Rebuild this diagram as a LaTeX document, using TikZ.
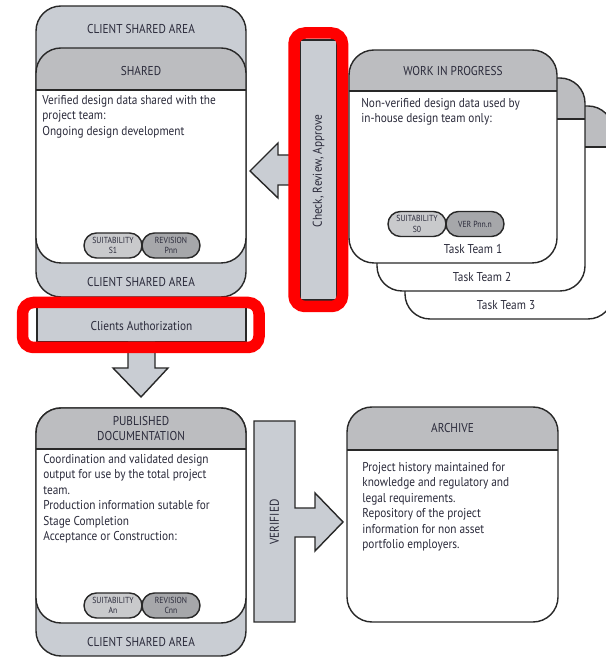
\documentclass[tikz,border=0pt]{standalone}
\usepackage{fontspec}
\setmainfont{PT Sans}[FakeStretch=0.88]
\definecolor{areagrey}{RGB}{201,205,211}
\definecolor{headgrey}{RGB}{188,189,192}
\definecolor{pillgrey}{RGB}{201,202,204}
\definecolor{pilldark}{RGB}{166,167,170}
\definecolor{inkline}{RGB}{40,40,40}
\definecolor{inktext}{RGB}{42,42,58}
\tikzset{
  boxline/.style={draw=inkline, line width=0.8pt},
  area/.style={boxline, fill=areagrey, rounded corners=0.5cm},
  headtext/.style={font=\fontsize{7.3}{8.8}\selectfont, text=inktext, inner sep=0},
  body/.style={headtext, anchor=north west, align=left},
  pill/.style={boxline, rounded corners=0.25cm, minimum width=1.16cm, minimum height=0.5cm, inner sep=0, align=center, font=\fontsize{5}{6}\selectfont, text=inktext},
  redbox/.style={draw=red, line width=0.23cm, rounded corners=0.22cm},
  blockarrow/.style={boxline, fill=areagrey}
}
\newcommand{\stagebox}[5]{%
  \begin{scope}
    \clip[rounded corners=0.5cm] (#1,#2) rectangle (#3,#4);
    \fill[white] (#1,#2) rectangle (#3,#4);
    \fill[headgrey] (#1,#5) rectangle (#3,#4);
  \end{scope}
  \draw[boxline, rounded corners=0.5cm] (#1,#2) rectangle (#3,#4);
  \draw[boxline] (#1,#5) -- (#3,#5);
}
\begin{document}
\begin{tikzpicture}
\useasboundingbox (0,0) rectangle (12.1,13.14);

% shared
\draw[area] (0.72,7.2) rectangle (4.92,13.02);
\node[headtext] (csa1) at (2.82,12.56) {CLIENT SHARED AREA};
\stagebox{0.72}{7.88}{4.92}{12.18}{11.34}
\node[headtext] (shared) at (2.82,11.72) {SHARED};
\node[body] (sharedtxt) at (0.84,11.24) {Verified design data shared with the\\project team:\\Ongoing design development};
\node[pill, fill=pillgrey] (suit1) at (2.26,8.23) {SUITABILITY\\S1};
\node[pill, fill=pilldark] (rev1) at (3.42,8.23) {REVISION\\Pnn};
\node[headtext] (csa2) at (2.82,7.5) {CLIENT SHARED AREA};

\draw[blockarrow] (6.1,10.04) -- (5.56,10.04) -- (5.56,10.28) -- (5.0,9.72) -- (5.56,9.18) -- (5.56,9.44) -- (6.1,9.44);
\draw[boxline, fill=areagrey] (6.0,7.14) rectangle (6.74,12.34);
\node[headtext, rotate=90] (check) at (6.37,9.72) {Check, Review, Approve};
\draw[redbox] (5.88,7.01) rectangle (6.85,12.48);

% work in progress
\foreach \i/\lx in {3/10.12,2/9.64,1/9.46}{
  \pgfmathsetmacro\off{(\i-1)*0.56}
  \stagebox{6.98+\off}{7.88-\off}{11.14+\off}{12.14-\off}{11.32-\off}
  \node[headtext] (team\i) at (\lx,8.16-\off) {Task Team \i};
}
\node[headtext] (wip) at (9.06,11.72) {WORK IN PROGRESS};
\node[body] (wiptxt) at (7.22,11.18) {Non-verified design data used by\\in-house design team only:};
\node[pill, fill=pillgrey] (suit0) at (8.34,8.66) {SUITABILITY\\S0};
\node[pill, fill=pilldark] (ver) at (9.5,8.66) {VER Pnn.n};

% authorization
\draw[boxline, fill=areagrey] (0.74,6.3) rectangle (4.92,7.14);
\draw[blockarrow] (2.56,6.3) -- (2.56,5.78) -- (2.26,5.78) -- (2.82,5.2) -- (3.36,5.78) -- (3.1,5.78) -- (3.1,6.3);
\node[headtext] (auth) at (2.83,6.62) {Clients Authorization};
\draw[redbox] (0.45,6.19) rectangle (5.18,7.09);

% published
\draw[area] (0.72,0.02) rectangle (4.92,4.98);
\stagebox{0.72}{0.68}{4.92}{4.98}{4.16}
\node[headtext, align=center] (pub) at (2.82,4.57) {PUBLISHED\\DOCUMENTATION};
\node[body] (pubtxt) at (0.86,4.06) {Coordination and validated design\\output for use by the total project\\team.\\Production information sutable for\\Stage Completion\\Acceptance or Construction:};
\node[pill, fill=pillgrey] (suitA) at (2.26,1.03) {SUITABILITY\\An};
\node[pill, fill=pilldark] (revC) at (3.42,1.03) {REVISION\\Cnn};
\node[headtext] (csa3) at (2.82,0.3) {CLIENT SHARED AREA};

\draw[blockarrow] (5.08,4.72) -- (5.9,4.72) -- (5.9,2.98) -- (6.3,2.98) -- (6.3,3.28) -- (6.86,2.7) -- (6.3,2.12) -- (6.3,2.4) -- (5.9,2.4) -- (5.9,0.7) -- (5.08,0.7) -- cycle;
\node[headtext, rotate=90] (verified) at (5.49,2.7) {VERIFIED};

% archive
\stagebox{6.94}{0.7}{11.16}{5.0}{4.14}
\node[headtext] (archive) at (9.05,4.58) {ARCHIVE};
\node[body] (archtxt) at (7.24,3.9) {Project history maintained for\\knowledge and regulatory and\\legal requirements.\\Repository of the project\\information for non asset\\portfolio employers.};
\end{tikzpicture}
\end{document}
